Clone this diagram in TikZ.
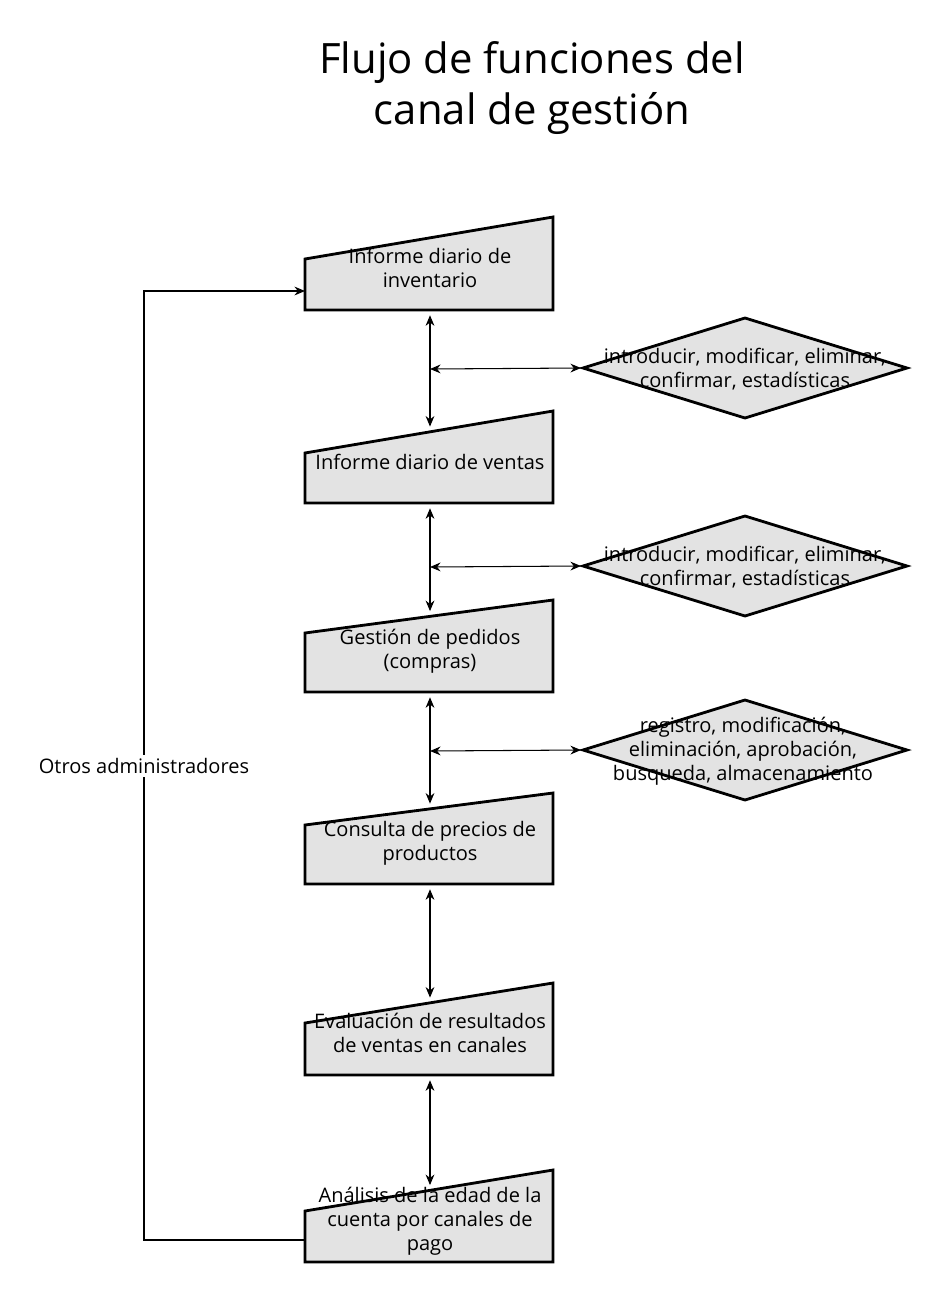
\documentclass[tikz,border=0pt]{standalone}
\usepackage{fontspec}
\setmainfont{Open Sans}
\usetikzlibrary{arrows.meta}
\begin{document}
\begin{tikzpicture}[x=0.02cm,y=-0.02cm,
  shp/.style={draw=black,line width=1.6pt,fill=gray!22},
  lbl/.style={align=center,font=\fontsize{11.4}{13.8}\selectfont,inner sep=0pt},
  con/.style={{Stealth[length=6pt,width=5pt]}-{Stealth[length=6pt,width=5pt]},line width=0.6pt},
  fb/.style={-{Stealth[length=6pt,width=5pt]},line width=0.6pt}]
\useasboundingbox (0,0) rectangle (945,1299);
\node[font=\fontsize{23.8}{28.5}\selectfont,align=center] (title) at (532,88) {Flujo de funciones del\\canal de gestión};
\foreach \n/\lt/\rt/\bt in {1/259/217/310, 2/453/411/503, 3/633/600/692, 4/825/793/884, 5/1023/983/1075, 6/1211/1170/1262}{
  \draw[shp] (305,\lt) -- (553,\rt) -- (553,\bt) -- (305,\bt) -- cycle;
  \coordinate (t\n) at (430,{\lt-(\lt-\rt)*125/248});
  \coordinate (b\n) at (430,\bt);
}
\node[lbl] (n1) at (430,268) {Informe diario de\\inventario};
\node[lbl] (n2) at (430,462) {Informe diario de ventas};
\node[lbl] (n3) at (430,651) {Gestión de pedidos\\(compras)};
\node[lbl] (n4) at (430,843) {Consulta de precios de\\productos};
\node[lbl] (n5) at (430,1033) {Evaluación de resultados\\de ventas en canales};
\node[lbl] (n6) at (430,1221) {Análisis de la edad de la\\cuenta por canales de\\pago};
\foreach \d/\cy in {1/368, 2/566, 3/750}{
  \draw[shp] (583,\cy) -- (745,{\cy-50}) -- (907,\cy) -- (745,{\cy+50}) -- cycle;
  \coordinate (dl\d) at (581,\cy);
}
\node[lbl] (d1) at (745,369) {introducir, modificar, eliminar,\\confirmar, estadísticas};
\node[lbl] (d2) at (745,567) {introducir, modificar, eliminar,\\confirmar, estadísticas};
\node[lbl] (d3) at (743,751) {registro, modificación,\\eliminación, aprobación,\\busqueda, almacenamiento};
\draw[con] ([yshift=-3]b1) -- ([yshift=3]t2);
\draw[con] ([yshift=-3]b2) -- ([yshift=3]t3);
\draw[con] ([yshift=-3]b3) -- ([yshift=3]t4);
\draw[con] ([yshift=-3]b4) -- ([yshift=3]t5);
\draw[con] ([yshift=-3]b5) -- ([yshift=3]t6);
\coordinate (h1) at (430,369);
\coordinate (h2) at (430,567);
\coordinate (h3) at (430,751);
\draw[con] (h1) -- (dl1);
\draw[con] (h2) -- (dl2);
\draw[con] (h3) -- (dl3);
\coordinate (fb1) at (305,1240);
\coordinate (fb2) at (305,291);
\draw[fb] (fb1) -- (144,1240) -- (144,291) -- (fb2);
\node[lbl,fill=white,inner sep=2pt] (oa) at (144,766) {Otros administradores};
\end{tikzpicture}
\end{document}
